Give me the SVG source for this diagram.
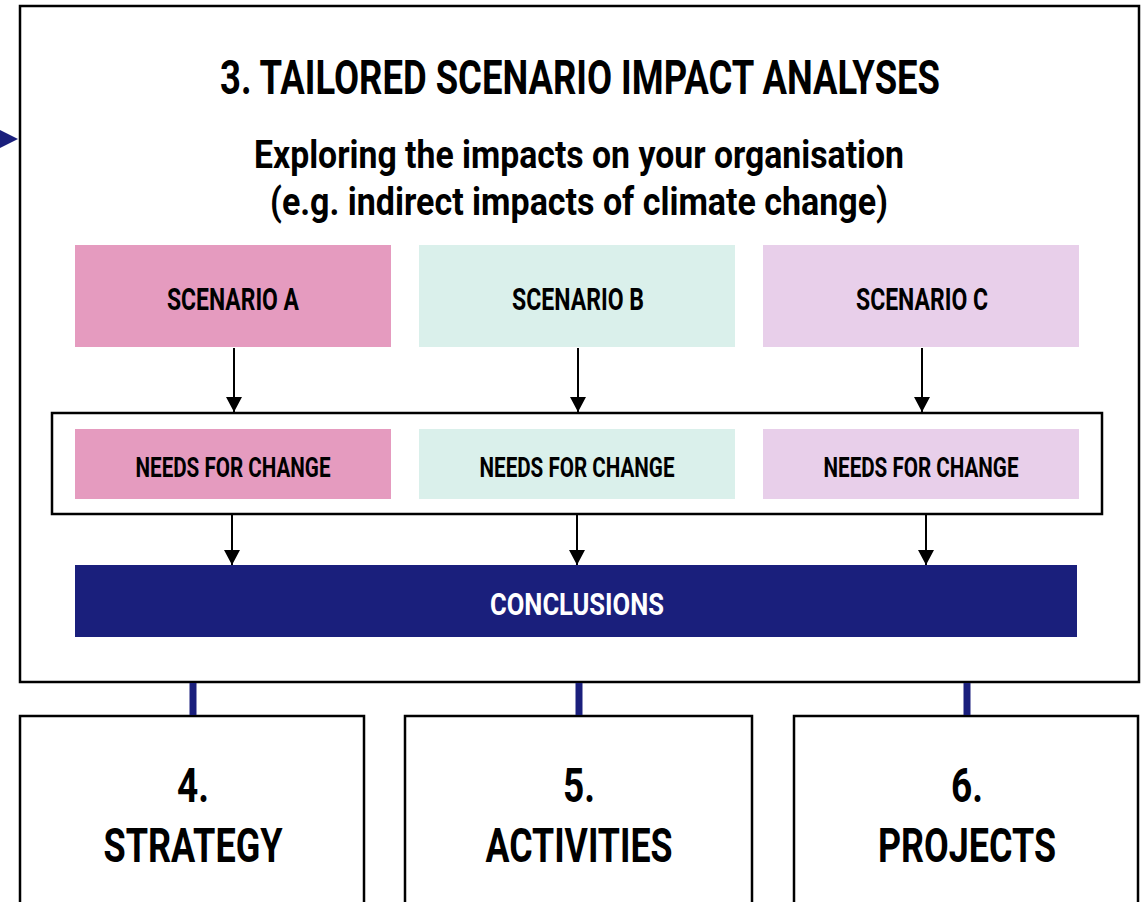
<svg xmlns="http://www.w3.org/2000/svg" width="1145" height="902" viewBox="0 0 1145 902">
<style>
  text { font-family: "Roboto", "Liberation Sans", sans-serif; font-weight: bold; text-anchor: middle; fill: #000; }
  .frame { fill: #fff; stroke: #000; stroke-width: 2.5; }
  .arrow { stroke: #000; stroke-width: 2; fill: none; marker-end: url(#ah); }
  .link { stroke: #1A1F7C; stroke-width: 7; }
  .t-scn { font-size: 32px; }
  .t-need { font-size: 28px; }
  .t-big { font-size: 49px; }
</style>
<defs>
  <marker id="ah" viewBox="0 0 15 16" refX="15" refY="8" markerWidth="15" markerHeight="16" markerUnits="userSpaceOnUse" orient="auto">
    <path d="M0,0 L15,8 L0,16 Z" fill="#000"/>
  </marker>
</defs>
<rect width="1145" height="902" fill="#fff"/>

<g id="incoming">
  <path d="M0,130 L18,139 L0,148 Z" fill="#1A1F7C"/>
</g>

<g id="main">
  <rect class="frame" x="20" y="6" width="1119" height="676"/>
  <text transform="translate(580,94) scale(0.8,1)" x="0" y="0" font-size="49" textLength="900" lengthAdjust="spacingAndGlyphs">3. TAILORED SCENARIO IMPACT ANALYSES</text>
  <text x="579" y="168" font-size="38" textLength="650" lengthAdjust="spacingAndGlyphs">Exploring the impacts on your organisation</text>
  <text x="579" y="215" font-size="38" textLength="618" lengthAdjust="spacingAndGlyphs">(e.g. indirect impacts of climate change)</text>
</g>

<g id="scenario-a">
  <rect x="75" y="245" width="316" height="102" fill="#E59BBF"/>
  <text class="t-scn" x="233" y="310" textLength="132" lengthAdjust="spacingAndGlyphs">SCENARIO A</text>
</g>
<g id="scenario-b">
  <rect x="419" y="245" width="316" height="102" fill="#DAF0EB"/>
  <text class="t-scn" x="578" y="310" textLength="132" lengthAdjust="spacingAndGlyphs">SCENARIO B</text>
</g>
<g id="scenario-c">
  <rect x="763" y="245" width="316" height="102" fill="#E8CFEA"/>
  <text class="t-scn" x="922" y="310" textLength="132" lengthAdjust="spacingAndGlyphs">SCENARIO C</text>
</g>

<g id="needs-group">
  <rect class="frame" x="52" y="413" width="1050" height="101"/>
</g>
<g id="needs-a">
  <rect x="75" y="429" width="316" height="70" fill="#E59BBF"/>
  <text class="t-need" x="233" y="477" textLength="195" lengthAdjust="spacingAndGlyphs">NEEDS FOR CHANGE</text>
</g>
<g id="needs-b">
  <rect x="419" y="429" width="316" height="70" fill="#DAF0EB"/>
  <text class="t-need" x="577" y="477" textLength="195" lengthAdjust="spacingAndGlyphs">NEEDS FOR CHANGE</text>
</g>
<g id="needs-c">
  <rect x="763" y="429" width="316" height="70" fill="#E8CFEA"/>
  <text class="t-need" x="921" y="477" textLength="195" lengthAdjust="spacingAndGlyphs">NEEDS FOR CHANGE</text>
</g>

<g id="conclusions">
  <rect x="75" y="565" width="1002" height="72" fill="#1A1F7C"/>
  <text x="577" y="615" font-size="32" style="fill:#fff" textLength="174" lengthAdjust="spacingAndGlyphs">CONCLUSIONS</text>
</g>

<g id="strategy">
  <rect class="frame" x="20" y="716" width="344" height="200"/>
  <text class="t-big" x="193" y="802" textLength="32" lengthAdjust="spacingAndGlyphs">4.</text>
  <text class="t-big" x="193" y="862" textLength="179" lengthAdjust="spacingAndGlyphs">STRATEGY</text>
</g>
<g id="activities">
  <rect class="frame" x="405" y="716" width="347" height="200"/>
  <text class="t-big" x="579" y="802" textLength="32" lengthAdjust="spacingAndGlyphs">5.</text>
  <text class="t-big" x="579" y="862" textLength="187" lengthAdjust="spacingAndGlyphs">ACTIVITIES</text>
</g>
<g id="projects">
  <rect class="frame" x="794" y="716" width="344" height="200"/>
  <text class="t-big" x="967" y="802" textLength="32" lengthAdjust="spacingAndGlyphs">6.</text>
  <text class="t-big" x="967" y="862" textLength="178" lengthAdjust="spacingAndGlyphs">PROJECTS</text>
</g>

<g id="connectors">
  <line class="arrow" x1="234" y1="348" x2="234" y2="412"/>
  <line class="arrow" x1="578" y1="348" x2="578" y2="412"/>
  <line class="arrow" x1="922" y1="348" x2="922" y2="412"/>
  <line class="arrow" x1="232" y1="515" x2="232" y2="565"/>
  <line class="arrow" x1="577" y1="515" x2="577" y2="565"/>
  <line class="arrow" x1="926" y1="515" x2="926" y2="565"/>
  <line class="link" x1="193" y1="683" x2="193" y2="715"/>
  <line class="link" x1="579" y1="683" x2="579" y2="715"/>
  <line class="link" x1="967" y1="683" x2="967" y2="715"/>
</g>
</svg>
